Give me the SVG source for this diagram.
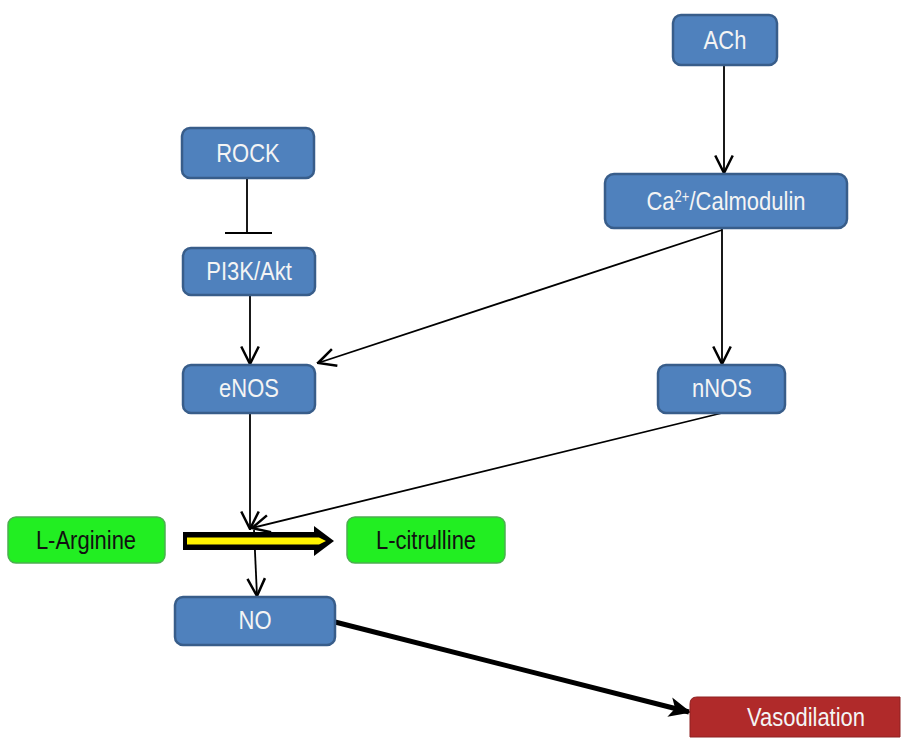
<svg xmlns="http://www.w3.org/2000/svg" width="916" height="738" viewBox="0 0 916 738">
<defs>
<style>
.blue{fill:#4F81BD;stroke:#385D8A;stroke-width:2.5}
.green{fill:#22EE22;stroke:#4CAF50;stroke-width:1.5}
.red{fill:#B02A2A;stroke:#8E2020;stroke-width:1}
.t{font-family:"Liberation Sans",Arial,sans-serif;font-size:22px;text-anchor:middle}
.w{fill:#F4F4F4}
.k{fill:#111}
.ln{stroke:#000;stroke-width:1.8;fill:none}
</style>
<marker id="open" markerUnits="userSpaceOnUse" markerWidth="20" markerHeight="20" refX="15" refY="8" orient="auto" viewBox="0 0 16 16">
<path d="M1,1 L15,8 L1,15" fill="none" stroke="#000" stroke-width="2"/>
</marker>
<marker id="solid" markerUnits="userSpaceOnUse" markerWidth="22" markerHeight="22" refX="18" refY="9" orient="auto" viewBox="0 0 20 18">
<path d="M0,0 L20,9 L0,18 L5,9 Z" fill="#000"/>
</marker>
</defs>
<rect width="916" height="738" fill="#fff"/>
<g id="connectors">
<line class="ln" x1="724" y1="65" x2="724" y2="173" marker-end="url(#open)"/>
<line class="ln" x1="722" y1="228" x2="722" y2="364" marker-end="url(#open)"/>
<line class="ln" x1="722" y1="230" x2="318" y2="363" marker-end="url(#open)"/>
<line class="ln" x1="250" y1="295" x2="250" y2="364" marker-end="url(#open)"/>
<line class="ln" x1="247" y1="178" x2="247" y2="233"/>
<line class="ln" x1="225" y1="233" x2="272" y2="233" stroke-width="2"/>
<line class="ln" x1="250" y1="413" x2="250" y2="529" marker-end="url(#open)"/>
<line class="ln" x1="722" y1="413" x2="252" y2="528" marker-end="url(#open)"/>
<line class="ln" x1="254" y1="530" x2="257" y2="596" marker-end="url(#open)"/>
<line x1="335" y1="622" x2="689" y2="712" stroke="#000" stroke-width="5" marker-end="url(#solid)"/>
<path d="M183,532 H314 V526 L334,541 L314,556 V550 H183 Z" fill="#000"/>
<path d="M187,537.5 H319 L326,541 L319,544.5 H187 Z" fill="#FFF200"/>
</g>
<g id="ACh"><rect class="blue" x="673" y="15" width="104" height="50" rx="8"/><text class="t w" transform="translate(725,49) scale(1,1.2)">ACh</text></g>
<g id="Calmodulin"><rect class="blue" x="605" y="174" width="242" height="54" rx="9"/><text class="t w" transform="translate(726,210) scale(1,1.2)">Ca<tspan font-size="13" dy="-7">2+</tspan><tspan dy="7">/Calmodulin</tspan></text></g>
<g id="ROCK"><rect class="blue" x="182" y="128" width="132" height="50" rx="8"/><text class="t w" transform="translate(248,162) scale(1,1.2)">ROCK</text></g>
<g id="PI3K"><rect class="blue" x="183" y="248" width="132" height="47" rx="8"/><text class="t w" transform="translate(249,280) scale(1,1.2)">PI3K/Akt</text></g>
<g id="eNOS"><rect class="blue" x="183" y="365" width="132" height="48" rx="8"/><text class="t w" transform="translate(249,397) scale(1,1.2)">eNOS</text></g>
<g id="nNOS"><rect class="blue" x="658" y="365" width="127" height="48" rx="8"/><text class="t w" transform="translate(722,397) scale(1,1.2)">nNOS</text></g>
<g id="LArginine"><rect class="green" x="8" y="517" width="157" height="46" rx="8"/><text class="t k" transform="translate(86,549) scale(1,1.2)">L-Arginine</text></g>
<g id="Lcitrulline"><rect class="green" x="347" y="517" width="158" height="46" rx="8"/><text class="t k" transform="translate(426,549) scale(1,1.2)">L-citrulline</text></g>
<g id="NO"><rect class="blue" x="175" y="597" width="160" height="48" rx="8"/><text class="t w" transform="translate(255,629) scale(1,1.2)">NO</text></g>
<g id="Vasodilation"><path class="red" d="M697,697 H900 V737 H690 V704 Q690,697 697,697 Z"/><text class="t w" transform="translate(806,726) scale(1,1.2)">Vasodilation</text></g>
</svg>
